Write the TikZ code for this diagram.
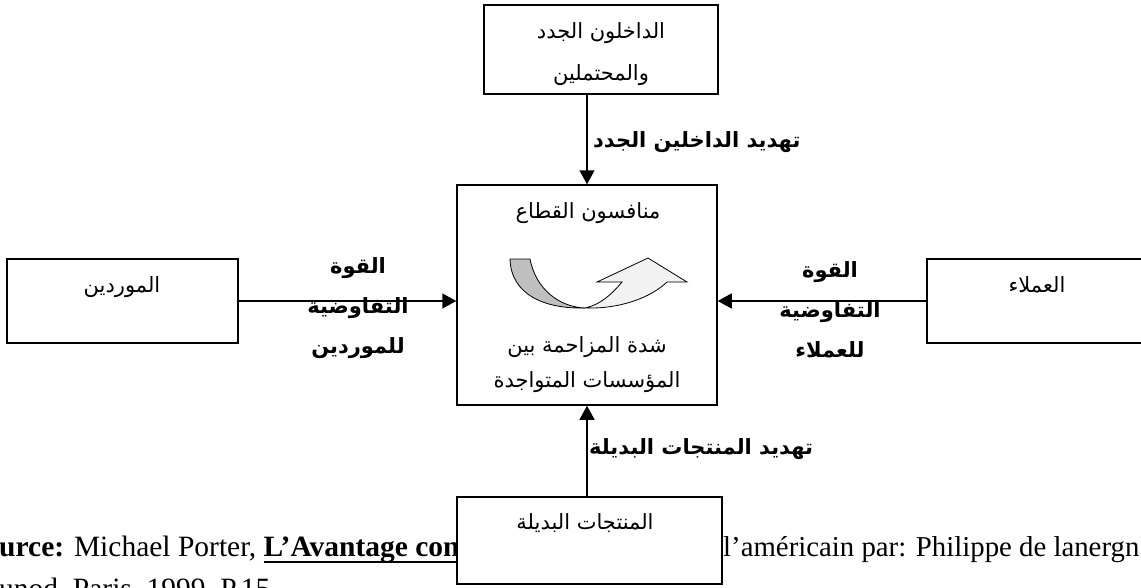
\documentclass[tikz,border=0pt]{standalone}
\usepackage{fontspec}
\setmainfont{Liberation Serif}
\newfontfamily\arabicfont[Script=Arabic]{DejaVu Sans}
\TeXXeTstate=1
\usetikzlibrary{arrows.meta}
\newcommand\artxt[1]{{\arabicfont\beginR #1\endR}}
\newcommand\myul[1]{\setbox0\hbox{#1}\rlap{\rule[-7pt]{\wd0}{2pt}}\box0}
\begin{document}
\begin{tikzpicture}[x=1pt,y=-1pt,
  box/.style={draw, line width=1.5pt, fill=white, inner sep=0pt},
  arr/.style={line width=1.5pt, -{Triangle[length=14pt,width=15pt]}},
  reg/.style={inner sep=0pt, align=center, font=\fontsize{21}{42}\selectfont},
  lbl/.style={inner sep=0pt, align=center, font=\fontsize{21}{40}\selectfont\bfseries},
  src/.style={inner sep=0pt, anchor=base west, font=\fontsize{29.5}{34}\selectfont}]
\useasboundingbox (0,0) rectangle (1141,587);
\clip (0,0) rectangle (1141,587);
% source text (partly hidden behind the bottom box)
\node[src] (srcA) at (-1,556) {\textbf{urce:} Michael Porter, \myul{\textbf{L’Avantage con}}};
\node[src, font=\fontsize{28.8}{34}\selectfont] (srcB) at (723,556) {l’américain par: Philippe de lanergn};
\node[src] (srcC) at (-1,598) {unod, Paris, 1999, P.15};
% boxes
\node[box, minimum width=234pt, minimum height=89pt] (top) at (601,49.5) {};
\node[box, minimum width=260pt, minimum height=220pt] (mid) at (587,295) {};
\node[box, minimum width=231pt, minimum height=84pt] (left) at (122.5,301) {};
\node[box, minimum width=233pt, minimum height=84pt] (right) at (1043.5,301) {};
\node[box, minimum width=265pt, minimum height=87pt] (bot) at (589.5,540.5) {};
% box texts
\node[reg] (topT) at (601,54) {\artxt{الداخلون الجدد}\\\artxt{والمحتملين}};
\node[reg] (midT1) at (588,213) {\artxt{منافسون القطاع}};
\node[reg, font=\fontsize{21}{35}\selectfont] (midT2) at (587,365) {\artxt{شدة المزاحمة بين}\\\artxt{المؤسسات المتواجدة}};
\node[reg] (leftT) at (122,287) {\artxt{الموردين}};
\node[reg] (rightT) at (1037,285) {\artxt{العملاء}};
\node[reg] (botT) at (585,523) {\artxt{المنتجات البديلة}};
% curved arrow
\draw[line width=0.8pt, fill=black!5]
  (585,308) .. controls (620,309) and (650,298) .. (667,282)
  -- (687,282) -- (648,258) -- (597,282) -- (622,282)
  .. controls (612,294) and (600,305) .. (585,308) -- cycle;
\draw[line width=0.8pt, fill=black!25]
  (510,259) -- (530,259) .. controls (536,290) and (560,307) .. (585,308)
  .. controls (545,309) and (511,295) .. (510,259) -- cycle;
% connectors
\draw[arr] (top.south -| mid.north) -- (mid.north);
\draw[arr] (bot.north -| mid.south) -- (mid.south);
\draw[arr] (left.east) -- (left.east -| mid.west);
\draw[arr] (right.west) -- (right.west -| mid.east);
% labels
\node[lbl, anchor=west] (lblTop) at (593,142) {\artxt{تهديد الداخلين الجدد}};
\node[lbl, anchor=west] (lblBot) at (589,449) {\artxt{تهديد المنتجات البديلة}};
\node[lbl] (lblLeft) at (358,308) {\artxt{القوة}\\\artxt{التفاوضية}\\\artxt{للموردين}};
\begin{scope}
\clip (740,240) rectangle (920,363);
\node[lbl] (lblRight) at (830,310) {\artxt{القوة}\\\artxt{التفاوضية}\\\artxt{للعملاء}};
\end{scope}
\end{tikzpicture}
\end{document}
